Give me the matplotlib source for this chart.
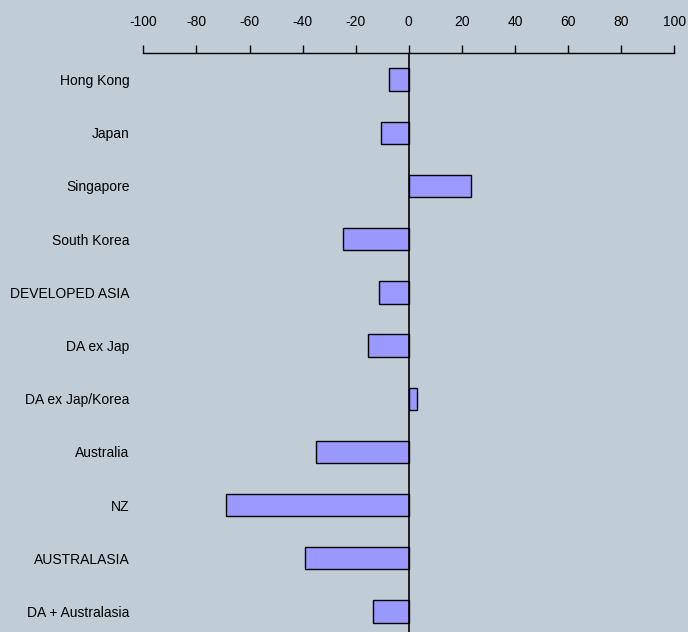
import matplotlib
matplotlib.use("Agg")
import matplotlib.pyplot as plt
from matplotlib import font_manager

# data
categories = ["Hong Kong", "Japan", "Singapore", "South Korea", "DEVELOPED ASIA",
              "DA ex Jap", "DA ex Jap/Korea", "Australia", "NZ", "AUSTRALASIA",
              "DA + Australasia"]
values = [-7.5, -10.5, 23.3, -24.9, -11.2, -15.3, 3.2, -34.8, -69.0, -39.1, -13.4]
x_ticks = [-100, -80, -60, -40, -20, 0, 20, 40, 60, 80, 100]

names = {f.name for f in font_manager.fontManager.ttflist}
fam = "Liberation Sans Narrow" if "Liberation Sans Narrow" in names else "Liberation Sans"
plt.rcParams["font.family"] = [fam, "DejaVu Sans"]
fs = 11 if fam == "Liberation Sans Narrow" else 10

bg = "#C0CCD6"
fig = plt.figure(figsize=(6.88, 6.32), dpi=100, facecolor=bg)
ax = fig.add_axes([0.2083, 0.0, 0.7718, 0.9161])
ax.set_facecolor(bg)

pos = list(range(len(categories)))
ax.barh(pos, values, height=0.42, color="#9999FF", edgecolor="black", linewidth=1.0)
ax.axvline(0, color="black", linewidth=1.2)

ax.set_xlim(-100, 100)
ax.set_ylim(10.386, -0.5)
ax.xaxis.tick_top()
ax.set_xticks(x_ticks)
ax.set_xticklabels([str(t) for t in x_ticks], fontsize=fs)
ax.tick_params(axis="x", direction="out", length=6, width=1, pad=11, color="black")
ax.set_yticks(pos)
ax.set_yticklabels(categories, fontsize=fs)
ax.tick_params(axis="y", length=0, pad=10)

for s in ["left", "right", "bottom"]:
    ax.spines[s].set_visible(False)
ax.spines["top"].set_linewidth(1.0)

fig.savefig("out.png", dpi=100, facecolor=bg)
